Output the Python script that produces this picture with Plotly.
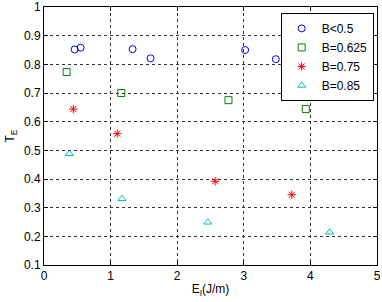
import plotly.graph_objects as go

# Data
b05_x = [0.46, 0.55, 1.33, 1.60, 3.02, 3.48]
b05_y = [0.852, 0.858, 0.853, 0.821, 0.850, 0.818]
b0625_x = [0.34, 1.16, 2.77, 3.93]
b0625_y = [0.773, 0.700, 0.675, 0.644]
b075_x = [0.44, 1.10, 2.57, 3.72]
b075_y = [0.644, 0.558, 0.392, 0.345]
b085_x = [0.38, 1.17, 2.46, 4.29]
b085_y = [0.488, 0.331, 0.249, 0.214]

x_ticks = [0, 1, 2, 3, 4, 5]
x_ticktext = ["0", "1", "2", "3", "4", "5"]
y_ticks = [0.1, 0.2, 0.3, 0.4, 0.5, 0.6, 0.7, 0.8, 0.9, 1.0]
y_ticktext = ["0.1", "0.2", "0.3", "0.4", "0.5", "0.6", "0.7", "0.8", "0.9", "1"]

series = [
    ("B<0.5", b05_x, b05_y, "circle-open", "#0000ff", 7),
    ("B=0.625", b0625_x, b0625_y, "square-open", "#008000", 7),
    ("B=0.75", b075_x, b075_y, "asterisk-open", "#ff0000", 7),
    ("B=0.85", b085_x, b085_y, "triangle-up-open", "#00bfbf", 7),
]

fig = go.Figure()
for name, xs, ys, sym, col, sz in series:
    fig.add_trace(go.Scatter(
        x=xs, y=ys, mode="markers", name=name,
        marker=dict(symbol=sym, color=col, size=sz, line=dict(color=col, width=1)),
    ))

font = dict(family="Liberation Sans, Arial, sans-serif", size=12, color="black")
fig.update_layout(
    width=382, height=302,
    margin=dict(l=44, r=5, t=7, b=37),
    paper_bgcolor="white", plot_bgcolor="white",
    font=font,
    showlegend=True,
    legend=dict(x=0.99, y=0.977, xanchor="right", yanchor="top",
                bgcolor="white", bordercolor="black", borderwidth=1,
                font=dict(size=12), tracegroupgap=0, itemsizing="trace",
                itemwidth=30),
    xaxis=dict(range=[0, 5], tickvals=x_ticks, ticktext=x_ticktext, showgrid=True,
               gridcolor="#333", griddash="dot", automargin=False,
               gridwidth=1, showline=True, linecolor="black", linewidth=1, mirror="ticks",
               ticks="inside", ticklen=4, tickcolor="black", zeroline=False,
               title=dict(text="E<sub>I</sub>(J/m)", standoff=2, font=dict(size=12))),
    yaxis=dict(range=[0.1, 1], tickvals=y_ticks, ticktext=y_ticktext, showgrid=True,
               gridcolor="#333", griddash="dot", automargin=False,
               gridwidth=1, showline=True, linecolor="black", linewidth=1, mirror="ticks",
               ticks="inside", ticklen=4, tickcolor="black", zeroline=False,
               title=dict(text="T<sub>E</sub>", standoff=6, font=dict(size=12))),
)
fig.write_html("out.html", config={"displayModeBar": False},
               post_script="document.body.style.margin='0';document.body.style.overflow='hidden';")
